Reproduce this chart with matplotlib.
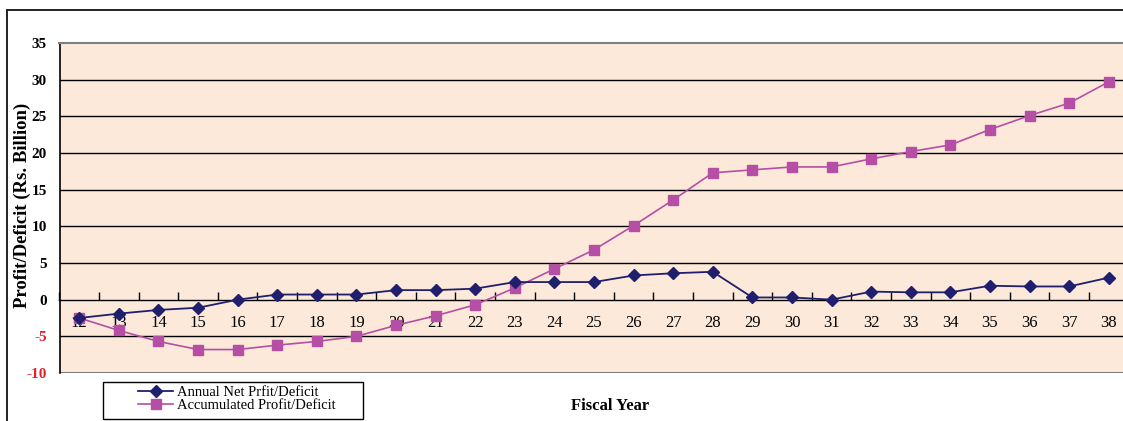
import numpy as np
import matplotlib
matplotlib.use("Agg")
import matplotlib.pyplot as plt
from matplotlib.patches import Rectangle

# Fiscal years (last two digits) and the two profit series, Rs. billion
years = [12, 13, 14, 15, 16, 17, 18, 19, 20, 21, 22, 23, 24, 25,
         26, 27, 28, 29, 30, 31, 32, 33, 34, 35, 36, 37, 38]
annual = [-2.5, -1.9, -1.4, -1.1, 0.0, 0.7, 0.7, 0.7, 1.3, 1.3, 1.5, 2.4, 2.4, 2.4,
          3.3, 3.6, 3.8, 0.3, 0.3, 0.0, 1.1, 1.0, 1.0, 1.9, 1.8, 1.8, 3.0]
accumulated = [-2.5, -4.2, -5.7, -6.8, -6.8, -6.2, -5.7, -5.0, -3.5, -2.2, -0.7, 1.6, 4.2, 6.8,
               10.1, 13.6, 17.3, 17.7, 18.1, 18.1, 19.2, 20.2, 21.1, 23.2, 25.1, 26.8, 29.7]
y_ticks = [-10, -5, 0, 5, 10, 15, 20, 25, 30, 35]

serif = "Liberation Serif"
W, H = 1123, 421

fig = plt.figure(figsize=(W / 100, H / 100), dpi=100)
fig.patch.set_facecolor("white")

# outer chart frame
fig.patches.append(Rectangle((7 / W, -0.2), 1.2, 1.2 - 10 / H,
                             transform=fig.transFigure, fill=False,
                             edgecolor="#222222", linewidth=1.4))

ax = fig.add_axes([59.5 / W, 48 / H, 1069 / W, 330 / H])
ax.set_facecolor("#FCE9DA")
ax.set_xlim(11.5, 38.5)
ax.set_ylim(-10, 35)

for v in y_ticks:
    if v in (-10, 0, 35):
        continue
    ax.axhline(v, color="black", linewidth=1.0, zorder=1)
ax.axhline(-10, color="#808080", linewidth=1.5, zorder=1)

x = np.array(years)
ax.plot(x, annual, color="#1F1F6E", marker="D", markersize=6.5,
        linewidth=1.3, label="Annual Net Prfit/Deficit", zorder=4)
ax.plot(x, accumulated, color="#B54FA6", marker="s", markersize=7,
        linewidth=1.2, label="Accumulated Profit/Deficit", zorder=3)

# category axis sits on the zero line, ticks between categories
ax.spines["bottom"].set_position(("data", 0))
ax.spines["bottom"].set_color("black")
ax.spines["bottom"].set_linewidth(1.0)
ax.spines["left"].set_color("black")
ax.spines["left"].set_linewidth(1.2)
ax.spines["top"].set_color("#808080")
ax.spines["top"].set_linewidth(1.5)
ax.spines["right"].set_visible(False)

ax.set_xticks(np.arange(11.5, 38.6, 1.0))
ax.set_xticklabels([])
ax.tick_params(axis="x", which="major", direction="in", length=6, width=1, color="black")
ax.set_xticks(x, minor=True)
ax.set_xticklabels([str(v) for v in years], minor=True, fontfamily=serif, fontsize=12)
ax.tick_params(axis="x", which="minor", length=0, pad=11)

ax.set_yticks(y_ticks)
ax.set_yticklabels([str(v) for v in y_ticks], fontfamily=serif, fontsize=11,
                   fontweight="bold")
ax.tick_params(axis="y", length=0, pad=9)
for lbl, v in zip(ax.get_yticklabels(), y_ticks):
    lbl.set_color("#E8202A" if v < 0 else "black")

fig.text(22 / W, 1 - 205 / H, "Profit/Deficit (Rs. Billion)", rotation=90,
         ha="center", va="center", fontfamily=serif, fontsize=13.5, fontweight="bold")
fig.text(610 / W, 1 - 406 / H, "Fiscal Year", ha="center", va="center",
         fontfamily=serif, fontsize=12, fontweight="bold")

# legend box with the entries set in from its left edge
fig.patches.append(Rectangle((103 / W, 1 - 419 / H), 260 / W, 37 / H,
                             transform=fig.transFigure, facecolor="white",
                             edgecolor="black", linewidth=1.0, zorder=5))
leg = fig.legend(loc="upper left", bbox_to_anchor=(138 / W, 1 - 386 / H),
                 frameon=False, handlelength=2.4, borderpad=0, borderaxespad=0,
                 labelspacing=0.0, handletextpad=0.25,
                 prop={"family": serif, "size": 10.5})
leg.set_zorder(6)

fig.savefig("out.png", dpi=100)
